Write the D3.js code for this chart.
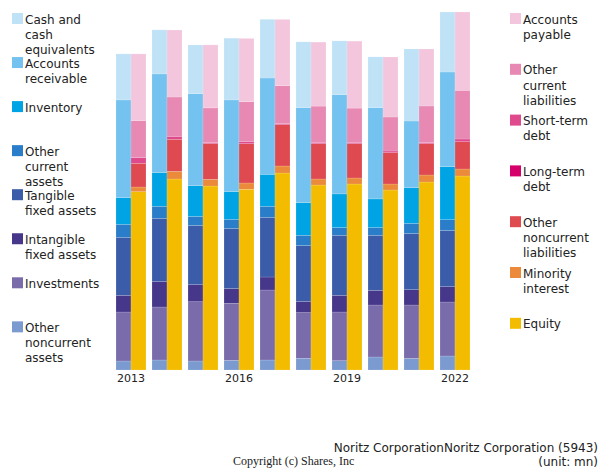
<!DOCTYPE html>
<html><head><meta charset="utf-8">
<script src="https://cdn.jsdelivr.net/npm/d3@7"></script>
<style>body{margin:0;background:#fff}svg{display:block}text{font-family:"DejaVu Sans",sans-serif}</style>
</head><body>
<svg id="c" width="600" height="470"></svg>
<script>
const years = [2013,2014,2015,2016,2017,2018,2019,2020,2021,2022];
const tickYears = [2013,2016,2019,2022];
// Assets (bottom to top order listed separately below)
const cashEquivalents   = [46.0,44.0,48.7,61.7,58.7,65.7,53.7,50.7,72.0,60.0];
const accountsReceivable= [97.7,98.7,92.0,91.7,96.3,95.0,99.3,91.3,66.7,94.7];
const inventory         = [26.7,33.7,30.7,27.7,32.0,32.7,33.7,28.7,35.7,53.0];
const otherCurrentAssets= [13.0,12.0,9.0,9.3,11.0,10.3,7.7,7.7,10.0,10.7];
const tangibleFixed     = [58.0,63.0,59.3,60.0,59.7,55.7,60.0,55.0,56.3,56.3];
const intangibleFixed   = [16.7,25.7,17.0,14.7,13.0,11.3,16.7,14.7,15.3,15.3];
const investments       = [49.0,53.0,59.3,57.0,70.0,45.7,48.7,52.0,53.3,54.0];
const otherNoncurrentAssets=[9.0,10.0,9.0,9.7,10.0,11.7,9.3,13.0,11.7,14.0];
// Liabilities & equity
const accountsPayable   = [66.7,67.0,63.0,63.3,66.3,64.0,67.0,60.0,57.0,78.3];
const otherCurrentLiab  = [37.0,39.3,34.7,39.7,38.0,36.3,34.3,34.0,36.7,48.7];
const shortTermDebt     = [5.7,3.0,1.0,2.3,1.0,1.3,1.3,1.7,1.0,2.7];
const longTermDebt      = [0,0,0,0,0,0,0,0,0,0];
const otherNoncurrentLiab=[23.7,32.0,35.7,39.3,41.3,35.3,34.3,31.3,31.3,27.3];
const minorityInterest  = [4.7,7.7,6.7,6.3,7.0,6.0,6.0,6.0,7.0,7.0];
const equity            = [178.3,191.0,184.0,180.7,197.0,185.0,186.0,180.0,188.0,194.0];

const assetSeries = [
  {name:"Other noncurrent assets", vals:otherNoncurrentAssets, color:"#7b9ad0"},
  {name:"Investments", vals:investments, color:"#7a6bab"},
  {name:"Intangible fixed assets", vals:intangibleFixed, color:"#46378a"},
  {name:"Tangible fixed assets", vals:tangibleFixed, color:"#3b5ca8"},
  {name:"Other current assets", vals:otherCurrentAssets, color:"#2a7dc8"},
  {name:"Inventory", vals:inventory, color:"#00a3e3"},
  {name:"Accounts receivable", vals:accountsReceivable, color:"#74c2ef"},
  {name:"Cash and cash equivalents", vals:cashEquivalents, color:"#bfe2f7"}
];
const liabSeries = [
  {name:"Equity", vals:equity, color:"#f4bc00"},
  {name:"Minority interest", vals:minorityInterest, color:"#eb8a3a"},
  {name:"Other noncurrent liabilities", vals:otherNoncurrentLiab, color:"#df4a50"},
  {name:"Long-term debt", vals:longTermDebt, color:"#d6006a"},
  {name:"Short-term debt", vals:shortTermDebt, color:"#df4a8c"},
  {name:"Other current liabilities", vals:otherCurrentLiab, color:"#e889b3"},
  {name:"Accounts payable", vals:accountsPayable, color:"#f4c6dd"}
];
const leftLegend = [
  {lines:["Cash and","cash","equivalents"], color:"#bfe2f7"},
  {lines:["Accounts","receivable"], color:"#74c2ef"},
  {lines:["Inventory"], color:"#00a3e3"},
  {lines:["Other","current","assets"], color:"#2a7dc8"},
  {lines:["Tangible","fixed assets"], color:"#3b5ca8"},
  {lines:["Intangible","fixed assets"], color:"#46378a"},
  {lines:["Investments"], color:"#7a6bab"},
  {lines:["Other","noncurrent","assets"], color:"#7b9ad0"}
];
const rightLegend = [
  {lines:["Accounts","payable"], color:"#f4c6dd"},
  {lines:["Other","current","liabilities"], color:"#e889b3"},
  {lines:["Short-term","debt"], color:"#df4a8c"},
  {lines:["Long-term","debt"], color:"#d6006a"},
  {lines:["Other","noncurrent","liabilities"], color:"#df4a50"},
  {lines:["Minority","interest"], color:"#eb8a3a"},
  {lines:["Equity"], color:"#f4bc00"}
];

const svg = d3.select("#c");
const x = d3.scaleBand().domain(years).range([113,473]).paddingInner(6/36).paddingOuter(3/36);
const y = d3.scaleLinear().domain([0,358]).range([370,12]);
const bw = x.bandwidth()/2;

function drawStack(series, offset){
  const g = svg.append("g");
  years.forEach((yr,i)=>{
    let acc = 0;
    series.forEach(s=>{
      const v = s.vals[i];
      if(v>0){
        g.append("rect")
          .attr("x", x(yr)+offset)
          .attr("y", y(acc+v))
          .attr("width", bw)
          .attr("height", y(acc)-y(acc+v))
          .attr("fill", s.color)
          .attr("stroke","rgba(255,255,255,0.25)")
          .attr("stroke-width",0.6);
      }
      acc += v;
    });
  });
}
drawStack(assetSeries, 0);
drawStack(liabSeries, bw);

// x axis labels
const xa = svg.append("g").attr("transform","translate(0,370)")
  .call(d3.axisBottom(x).tickValues(tickYears).tickSize(0).tickPadding(4));
xa.select(".domain").remove();
xa.selectAll("text").attr("font-size","11px").attr("fill","#222").attr("font-family","DejaVu Sans");

function legend(items, x0, y0, step){
  items.forEach((it,i)=>{
    const yy = y0 + i*step;
    svg.append("rect").attr("x",x0).attr("y",yy).attr("width",11).attr("height",11).attr("fill",it.color);
    const t = svg.append("text").attr("x",x0+13).attr("y",yy+10.5).attr("font-size","12px").attr("fill","#222");
    it.lines.forEach((l,j)=>{
      t.append("tspan").attr("x",x0+13).attr("dy", j===0?0:15.3).text(l);
    });
  });
}
legend(leftLegend, 12, 13, 44.05);
legend(rightLegend, 510, 13, 50.8);

svg.append("text").attr("x",598).attr("y",452).attr("text-anchor","end").attr("font-size","12px").attr("fill","#222")
  .text("Noritz CorporationNoritz Corporation (5943)");
svg.append("text").attr("x",598).attr("y",466).attr("text-anchor","end").attr("font-size","12px").attr("fill","#222")
  .text("(unit: mn)");
svg.append("text").attr("x",233).attr("y",465).attr("font-size","12px").attr("fill","#222")
  .attr("font-family","'Liberation Serif','Times New Roman',serif").style("font-family","'Liberation Serif',serif")
  .text("Copyright (c) Shares, Inc");
</script>
</body></html>
